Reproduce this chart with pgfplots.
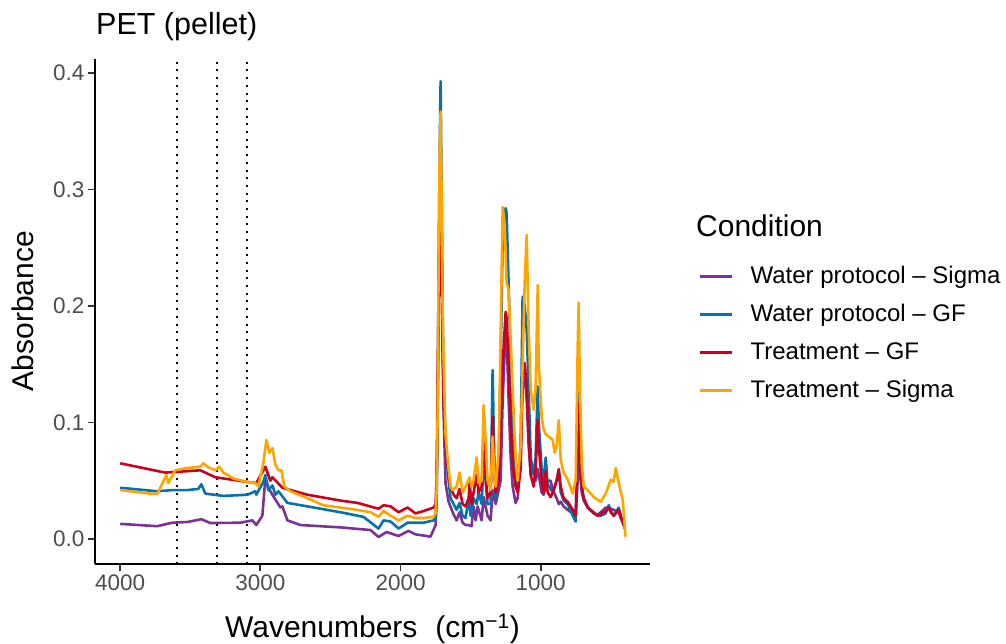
\documentclass[border=0pt]{standalone}
\usepackage{pgfplots}
\usepackage{pgfplotstable}
\pgfplotsset{compat=1.18}
\usepackage{fontspec}
\setmainfont{Liberation Sans}

\definecolor{wsigma}{HTML}{7B3294}
\definecolor{wgf}{HTML}{0571B0}
\definecolor{tgf}{HTML}{CA0020}
\definecolor{tsigma}{HTML}{FFA500}
\definecolor{gray30}{HTML}{4D4D4D}

% Water protocol - Sigma
\pgfplotstableread{
wn abs
4000 0.013
3736 0.011
3629 0.014
3521 0.0146
3421 0.017
3357 0.0137
3143 0.014
3057 0.016
3029 0.012
2986 0.020
2964 0.053
2943 0.044
2914 0.038
2857 0.027
2843 0.028
2807 0.016
2714 0.012
2429 0.010
2214 0.0077
2157 0.0017
2100 0.006
2014 0.0026
1943 0.007
1893 0.004
1836 0.003
1786 0.002
1764 0.008
1750 0.012
1743 0.030
1736 0.090
1729 0.200
1721 0.300
1714 0.330
1707 0.270
1700 0.180
1693 0.110
1679 0.048
1657 0.032
1621 0.021
1600 0.016
1579 0.023
1557 0.014
1536 0.012
1514 0.012
1493 0.011
1479 0.028
1464 0.016
1450 0.028
1421 0.016
1407 0.036
1379 0.020
1357 0.016
1343 0.042
1321 0.030
1286 0.050
1271 0.120
1250 0.180
1243 0.175
1229 0.120
1214 0.070
1200 0.045
1179 0.031
1164 0.035
1143 0.070
1129 0.130
1114 0.139
1100 0.120
1086 0.080
1071 0.055
1050 0.059
1036 0.050
1021 0.060
1014 0.055
993 0.040
979 0.038
957 0.048
943 0.050
929 0.050
914 0.042
886 0.035
871 0.030
857 0.032
836 0.028
807 0.025
771 0.022
750 0.020
736 0.050
729 0.080
721 0.060
707 0.040
693 0.033
664 0.027
621 0.022
593 0.021
571 0.023
536 0.027
514 0.027
500 0.026
479 0.025
443 0.023
429 0.018
400 0.010
}\wsigmadata

% Water protocol - GF
\pgfplotstableread{
wn abs
4000 0.044
3736 0.041
3629 0.042
3521 0.042
3443 0.043
3421 0.047
3393 0.039
3264 0.037
3093 0.038
3036 0.041
3029 0.038
2979 0.049
2964 0.055
2943 0.042
2914 0.046
2893 0.038
2871 0.041
2807 0.031
2664 0.028
2429 0.023
2264 0.019
2157 0.009
2121 0.016
2071 0.015
2014 0.009
1950 0.014
1893 0.014
1836 0.014
1764 0.016
1750 0.018
1743 0.035
1736 0.100
1729 0.220
1721 0.330
1714 0.393
1707 0.300
1700 0.200
1693 0.130
1679 0.080
1657 0.050
1643 0.035
1621 0.030
1600 0.025
1579 0.031
1557 0.020
1536 0.018
1514 0.035
1500 0.020
1479 0.035
1457 0.030
1443 0.040
1421 0.030
1407 0.070
1393 0.050
1379 0.030
1357 0.030
1343 0.145
1330 0.060
1321 0.035
1300 0.060
1286 0.150
1271 0.260
1250 0.284
1243 0.280
1229 0.220
1214 0.150
1200 0.090
1179 0.050
1164 0.045
1143 0.080
1129 0.208
1114 0.200
1100 0.180
1086 0.130
1071 0.070
1050 0.055
1036 0.070
1021 0.131
1014 0.100
993 0.060
979 0.050
964 0.070
950 0.047
914 0.040
886 0.050
871 0.059
857 0.040
836 0.033
807 0.030
771 0.020
750 0.015
736 0.100
729 0.150
721 0.100
707 0.045
693 0.035
664 0.027
621 0.023
593 0.020
571 0.020
536 0.022
514 0.029
500 0.024
479 0.020
443 0.027
429 0.020
400 0.012
}\wgfdata

% Treatment - GF
\pgfplotstableread{
wn abs
4000 0.065
3679 0.057
3429 0.059
3321 0.053
3093 0.049
3029 0.048
2964 0.062
2929 0.050
2914 0.053
2843 0.044
2664 0.038
2429 0.033
2307 0.031
2157 0.026
2121 0.029
2071 0.028
2014 0.023
1950 0.027
1893 0.022
1836 0.024
1764 0.027
1750 0.030
1743 0.050
1736 0.120
1729 0.200
1721 0.250
1714 0.263
1707 0.220
1700 0.160
1693 0.120
1679 0.080
1657 0.055
1643 0.045
1621 0.038
1600 0.035
1579 0.043
1557 0.030
1536 0.028
1514 0.035
1507 0.048
1493 0.030
1457 0.055
1443 0.040
1421 0.045
1407 0.085
1393 0.055
1379 0.035
1357 0.040
1343 0.105
1330 0.060
1321 0.040
1300 0.050
1286 0.100
1271 0.150
1250 0.195
1243 0.190
1229 0.150
1214 0.100
1200 0.065
1179 0.045
1164 0.040
1143 0.060
1129 0.140
1114 0.151
1100 0.130
1086 0.090
1071 0.055
1050 0.045
1036 0.060
1021 0.102
1014 0.080
993 0.050
979 0.040
964 0.058
950 0.040
929 0.036
914 0.040
886 0.050
871 0.060
857 0.045
836 0.035
807 0.032
771 0.025
750 0.020
736 0.080
729 0.117
721 0.080
707 0.045
693 0.035
664 0.027
621 0.022
593 0.020
571 0.021
536 0.024
514 0.027
500 0.023
479 0.020
443 0.025
429 0.020
400 0.009
}\tgfdata

% Treatment - Sigma
\pgfplotstableread{
wn abs
4000 0.042
3788 0.039
3736 0.0386
3714 0.044
3671 0.055
3657 0.048
3607 0.059
3521 0.061
3429 0.062
3407 0.065
3379 0.062
3321 0.059
3293 0.062
3264 0.057
3193 0.052
3093 0.049
3036 0.048
3014 0.045
2979 0.065
2957 0.085
2936 0.074
2914 0.078
2893 0.064
2871 0.059
2850 0.059
2829 0.045
2786 0.041
2664 0.035
2550 0.029
2429 0.027
2307 0.025
2214 0.023
2157 0.019
2121 0.024
2071 0.020
2014 0.016
1950 0.020
1893 0.018
1836 0.018
1764 0.019
1750 0.022
1743 0.040
1736 0.100
1729 0.220
1721 0.330
1714 0.367
1707 0.297
1700 0.200
1693 0.154
1679 0.090
1657 0.060
1643 0.045
1629 0.042
1600 0.045
1579 0.057
1557 0.040
1536 0.045
1507 0.053
1493 0.045
1479 0.050
1457 0.070
1443 0.048
1421 0.050
1407 0.115
1393 0.085
1379 0.050
1357 0.042
1343 0.088
1330 0.055
1321 0.045
1300 0.075
1286 0.170
1271 0.285
1257 0.270
1243 0.220
1229 0.214
1214 0.170
1200 0.128
1179 0.070
1164 0.050
1143 0.080
1129 0.150
1114 0.220
1100 0.261
1086 0.180
1071 0.128
1050 0.111
1036 0.130
1021 0.218
1014 0.150
993 0.105
979 0.094
964 0.090
943 0.088
914 0.085
900 0.074
886 0.080
871 0.102
857 0.068
836 0.057
807 0.051
771 0.039
750 0.051
736 0.165
729 0.203
721 0.136
707 0.065
693 0.045
664 0.042
621 0.036
571 0.032
536 0.039
500 0.051
479 0.049
464 0.061
443 0.048
414 0.033
400 0.010
395 0.002
}\tsigmadata

\begin{document}
\begin{tikzpicture}
\useasboundingbox (-95pt,-79.7pt) rectangle (911pt,564.3pt);
\begin{axis}[
  at={(0pt,0pt)}, anchor=south west,
  scale only axis, width=555pt, height=505pt,
  x dir=reverse, xmin=220, xmax=4180,
  ymin=-0.0217, ymax=0.4118,
  axis x line*=bottom, axis y line*=left,
  axis line style={black, line width=1.8pt},
  xtick={1000,2000,3000,4000},
  ytick={0,0.1,0.2,0.3,0.4},
  tick align=outside, major tick length=7pt,
  tick style={line width=1.8pt, color=black!80},
  /pgf/number format/assume math mode=true,
  ticklabel style={font=\fontsize{22.5}{26}\selectfont, text=gray30},
  xticklabel style={/pgf/number format/1000 sep={}},
  yticklabel style={/pgf/number format/.cd, fixed, fixed zerofill, precision=1},
  clip=true,
  legend cell align=left,
  legend style={at={(1.0883,0.590)}, anchor=north west, draw=none, fill=none,
    inner sep=0pt, outer sep=0pt, row sep=16pt,
    font=\fontsize{24}{28}\selectfont,
    nodes={inner sep=0pt, text height=17pt, text depth=5pt},
    /tikz/every odd column/.append style={column sep=17pt, yshift=1pt}},
  legend image code/.code={\draw[#1] (0pt,0pt) -- (32pt,0pt);},
  every axis plot/.append style={line width=2.6pt, line join=round},
]
\draw[black, line width=1.6pt, dash pattern=on 2pt off 5.7pt] (axis cs:3595,-0.0217) -- (axis cs:3595,0.4118);
\draw[black, line width=1.6pt, dash pattern=on 2pt off 5.7pt] (axis cs:3310,-0.0217) -- (axis cs:3310,0.4118);
\draw[black, line width=1.6pt, dash pattern=on 2pt off 5.7pt] (axis cs:3095,-0.0217) -- (axis cs:3095,0.4118);
\addplot[wsigma] table[x=wn, y=abs] {\wsigmadata};
\addplot[wgf] table[x=wn, y=abs] {\wgfdata};
\addplot[tgf] table[x=wn, y=abs] {\tgfdata};
\addplot[tsigma] table[x=wn, y=abs] {\tsigmadata};
\legend{Water protocol – Sigma, Water protocol – GF, Treatment – GF, Treatment – Sigma}
\end{axis}
\node[anchor=base west, inner sep=0pt, font=\fontsize{30.5}{34}\selectfont] at (1pt,529.3pt) {PET (pellet)};
\node[anchor=base west, inner sep=0pt, font=\fontsize{30}{34}\selectfont] at (601pt,327.3pt) {Condition};
\node[anchor=base, inner sep=0pt, font=\fontsize{30}{34}\selectfont] at (277.5pt,-73.5pt) {Wavenumbers\hspace{18pt}(cm\textsuperscript{\char"2212 1})};
\node[anchor=base, rotate=90, inner sep=0pt, font=\fontsize{30}{34}\selectfont] at (-61.7pt,253.3pt) {Absorbance};
\end{tikzpicture}
\end{document}
